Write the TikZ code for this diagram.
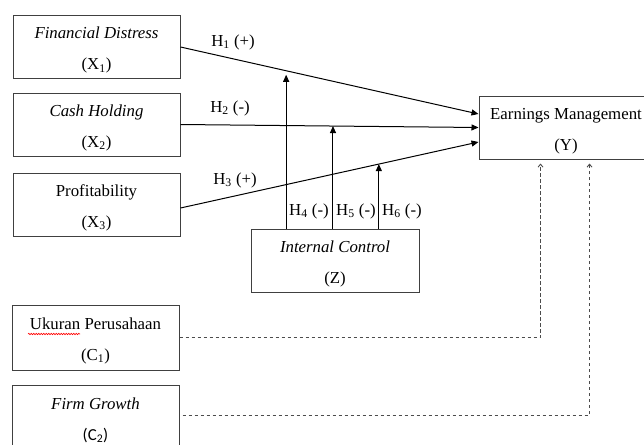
\documentclass[tikz,border=0pt]{standalone}
\usepackage{fontspec}
\setmainfont{Liberation Serif}
\newfontfamily\calibrifont{Carlito}
\usetikzlibrary{arrows.meta,calc,decorations.pathmorphing}
\begin{document}
\begin{tikzpicture}[x=1pt,y=-1pt,
  box/.style={draw=black!75, line width=1pt, minimum width=167pt, minimum height=63pt,
    inner sep=0pt, align=center, font=\fontsize{16.8}{31}\selectfont,
    execute at begin node={\rule{0pt}{49pt}}},
  arr/.style={line width=1pt, -{Triangle[length=7pt,width=6pt]}},
  darr/.style={line width=1pt, draw=black!70, dash pattern=on 3.5pt off 2.5pt,
    -{Straight Barb[length=3pt,width=5pt,line width=0.9pt]}},
  lbl/.style={font=\fontsize{16.8}{20}\selectfont, inner sep=0pt}]
\clip (0,0) rectangle (644,444);
\fill[white] (0,0) rectangle (644,444);

% boxes
\node[box] (X1) at (96.5,47) {\textit{Financial Distress}\\(X\textsubscript{1})};
\node[box] (X2) at (96.5,124.5) {\textit{Cash Holding}\\(X\textsubscript{2})};
\node[box] (X3) at (96.5,204.5) {Profitability\\(X\textsubscript{3})};
\node[box, minimum width=174pt] (Y) at (566,127.5) {Earnings Management\\(Y)};
\node[box, minimum width=168pt] (Z) at (335,260.5) {\textit{Internal Control}\\(Z)};
\node[box, minimum height=65pt] (C1) at (95.5,337.5) {Ukuran Perusahaan\\(C\textsubscript{1})};
\node[box, minimum height=64pt] (C2) at (95.5,417) {\textit{Firm Growth}\\{\calibrifont(C\textsubscript{2})}};

% spell-check squiggle
\draw[red, line width=0.6pt, decorate, decoration={snake, amplitude=0.7pt, segment length=2.5pt}]
  (28,334) -- (80,334);

% direct effects
\draw[arr] (X1.east) -- coordinate[pos=0.3545] (m1) ($(Y.west)+(0,-13.5)$);
\draw[arr] (X2.east) -- coordinate[pos=0.5117] (m2) (Y.west);
\draw[arr] ($(X3.east)+(0,3.5)$) -- coordinate[pos=0.6656] (m3) ($(Y.west)+(0,14.5)$);

% moderation
\draw[arr] (Z.north -| m1) -- ($(m1)+(0,4)$);
\draw[arr] (Z.north -| m2) -- (m2);
\draw[arr] (Z.north -| m3) -- (m3);

% labels
\node[lbl] (h1) at (233,42) {H\textsubscript{1} (+)};
\node[lbl] (h2) at (230,108) {H\textsubscript{2} (-)};
\node[lbl] (h3) at (235,180) {H\textsubscript{3} (+)};
\node[lbl, anchor=west] (h4) at (289,211) {H\textsubscript{4} (-)};
\node[lbl, anchor=west] (h5) at (336,211) {H\textsubscript{5} (-)};
\node[lbl, anchor=west] (h6) at (382,211) {H\textsubscript{6} (-)};

% controls
\coordinate (t1) at ($(Y.south west)+(62,4)$);
\coordinate (t2) at ($(Y.south west)+(111,4)$);
\draw[darr] (C1.east) -| (t1);
\draw[darr] ($(C2.east)+(3,-2)$) -| (t2);
\end{tikzpicture}
\end{document}
